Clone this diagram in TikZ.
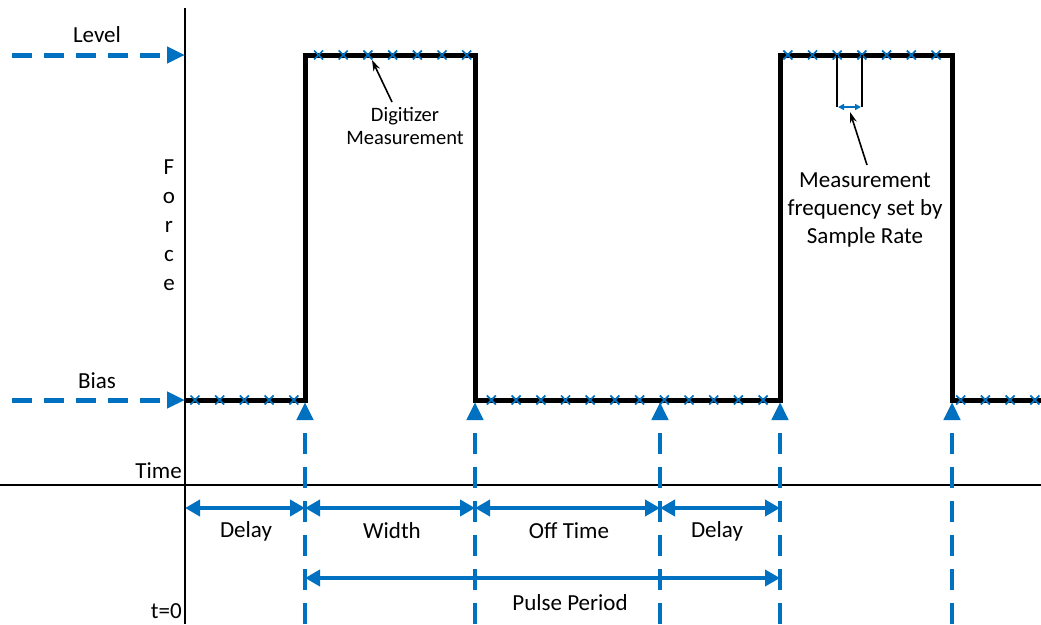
\documentclass[tikz,border=0pt]{standalone}
\usepackage{fontspec}
\setmainfont{Carlito}
\usetikzlibrary{arrows.meta}
\definecolor{kblue}{RGB}{0,112,192}
\begin{document}
\begin{tikzpicture}[x=1pt,y=-1pt,
  lbl/.style={font=\fontsize{23}{28}\selectfont, inner sep=0pt, align=center},
  smalllbl/.style={font=\fontsize{20.5}{23}\selectfont, inner sep=0pt, align=center},
  axisline/.style={line width=1.5pt, black},
  signal/.style={line width=5pt, black},
  dasharrow/.style={kblue, line width=5pt, dash pattern=on 20pt off 12pt, -{Triangle[length=18pt,width=16pt]}},
  spanarrow/.style={kblue, line width=4.2pt, {Triangle[length=15pt,width=16pt]}-{Triangle[length=15pt,width=16pt]}},
  xmk/.style={kblue, line width=1.7pt},
  callout/.style={black, line width=1.6pt, -{Stealth[length=11pt,width=7pt]}},
  bracketline/.style={black, line width=1.8pt},
  tinyspan/.style={kblue, line width=1.8pt, {Triangle[length=6pt,width=6pt]}-{Triangle[length=6pt,width=6pt]}},
]
\useasboundingbox (0,0) rectangle (1041,624);

% axes
\coordinate (ytop) at (185,8);
\coordinate (ybot) at (185,624);
\coordinate (tleft) at (0,485);
\coordinate (tright) at (1041,485);
\draw[axisline] (ytop) -- (ybot);
\draw[axisline] (tleft) -- (tright);

% signal
\coordinate (s0) at (185,400);
\coordinate (s1) at (305,400);
\coordinate (s2) at (305,55);
\coordinate (s3) at (475,55);
\coordinate (s4) at (475,400);
\coordinate (s5) at (780,400);
\coordinate (s6) at (780,55);
\coordinate (s7) at (952,55);
\coordinate (s8) at (952,400);
\coordinate (s9) at (1041,400);
\draw[signal] (s0) -- (s1) -- (s2) -- (s3) -- (s4) -- (s5) -- (s6) -- (s7) -- (s8) -- (s9);

% measurement markers
\foreach \k in {0,...,34} {
  \pgfmathsetmacro\mx{195+24.7*\k}
  \pgfmathsetmacro\my{((\k>=5 && \k<=11) || (\k>=24 && \k<=30)) ? 55 : 400}
  \draw[xmk] ({\mx-4.5},{\my-4.5}) -- ({\mx+4.5},{\my+4.5})
             ({\mx-4.5},{\my+4.5}) -- ({\mx+4.5},{\my-4.5});
}

% level / bias arrows
\coordinate (lvstart) at (12,55);
\coordinate (lvend) at (185,55);
\coordinate (bsstart) at (12,400);
\coordinate (bsend) at (185,400);
\draw[dasharrow] (lvstart) -- (lvend);
\draw[dasharrow] (bsstart) -- (bsend);
\node[lbl] (level) at (97,35) {Level};
\node[lbl] (bias) at (97,381) {Bias};
\node[lbl, anchor=east] (time) at (182,471) {Time};
\node[lbl, anchor=east] (tzero) at (182,611) {t=0};
\node[font=\fontsize{23}{29}\selectfont, inner sep=0pt, align=center] (force) at (169,225) {F\\o\\r\\c\\e};

% vertical dashed arrows
\foreach \n/\x in {a/305, b/475, c/660, d/780, e/952} {
  \coordinate (v\n bot) at (\x,624);
  \coordinate (v\n top) at (\x,402);
  \draw[dasharrow, line width=4.5pt, dash pattern=on 21pt off 13pt] (v\n bot) -- (v\n top);
}

% span arrows
\coordinate (h0) at (185,508);
\coordinate (h1) at (305,508);
\coordinate (h2) at (475,508);
\coordinate (h3) at (660,508);
\coordinate (h4) at (780,508);
\draw[spanarrow] (h0) -- (h1);
\draw[spanarrow] (h1) -- (h2);
\draw[spanarrow] (h2) -- (h3);
\draw[spanarrow] (h3) -- (h4);
\coordinate (pp0) at (305,578);
\coordinate (pp1) at (780,578);
\draw[spanarrow] (pp0) -- (pp1);

\node[lbl] (delay1) at (246,531) {Delay};
\node[lbl] (width) at (392,531) {Width};
\node[lbl] (offtime) at (569,531) {Off Time};
\node[lbl] (delay2) at (717,531) {Delay};
\node[lbl] (period) at (570,603) {Pulse Period};

% digitizer callout
\node[smalllbl] (digi) at (405,126) {Digitizer\\Measurement};
\coordinate (digitail) at (392,102);
\coordinate (digitip) at (372,60);
\draw[callout] (digitail) -- (digitip);

% sample-rate bracket
\coordinate (bra1) at (837,55);
\coordinate (bra1b) at (837,107);
\coordinate (bra2) at (862,55);
\coordinate (bra2b) at (862,107);
\draw[bracketline] (bra1) -- (bra1b);
\draw[bracketline] (bra2) -- (bra2b);
\coordinate (fr1) at (838,107);
\coordinate (fr2) at (861,107);
\draw[tinyspan] (fr1) -- (fr2);
\node[lbl] (freq) at (865,210) {Measurement\\frequency set by\\Sample Rate};
\coordinate (frtail) at (867,165);
\coordinate (frtip) at (850,112);
\draw[callout] (frtail) -- (frtip);
\end{tikzpicture}
\end{document}
